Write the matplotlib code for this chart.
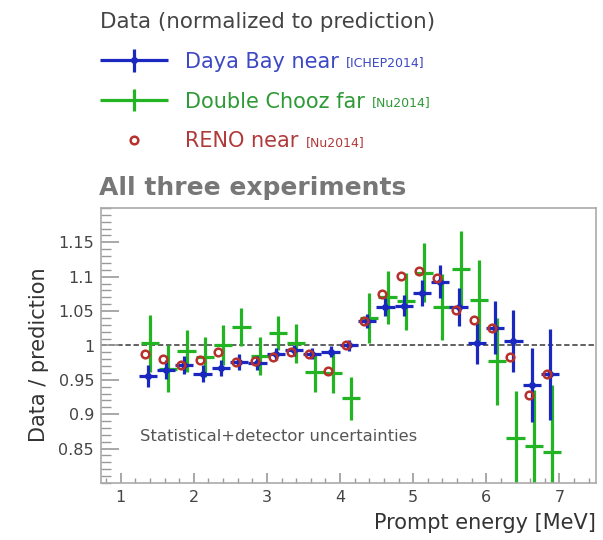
import matplotlib
matplotlib.use("Agg")
import matplotlib.pyplot as plt
from matplotlib.legend_handler import HandlerErrorbar

# energies (bin centres, slightly shifted per experiment)
dyb_e = [1.37, 1.62, 1.87, 2.12, 2.37, 2.62, 2.87, 3.12, 3.37, 3.62, 3.87, 4.12,
         4.37, 4.62, 4.87, 5.12, 5.37, 5.62, 5.87, 6.12, 6.37, 6.62, 6.87]
dyb_r = [0.956, 0.965, 0.972, 0.959, 0.967, 0.976, 0.975, 0.988, 0.993, 0.988, 0.991, 1.000,
         1.036, 1.056, 1.058, 1.077, 1.093, 1.056, 1.003, 1.026, 1.006, 0.943, 0.958]
dyb_err = [0.016, 0.014, 0.013, 0.012, 0.012, 0.011, 0.010, 0.009, 0.008, 0.008, 0.008, 0.008,
           0.010, 0.013, 0.015, 0.019, 0.024, 0.027, 0.030, 0.039, 0.045, 0.054, 0.066]

dc_e = [1.40, 1.65, 1.90, 2.15, 2.40, 2.65, 2.90, 3.15, 3.40, 3.65, 3.90, 4.15,
        4.40, 4.65, 4.90, 5.15, 5.40, 5.65, 5.90, 6.15, 6.40, 6.65, 6.90]
dc_r = [1.003, 0.966, 0.992, 0.983, 1.001, 1.027, 0.985, 1.018, 1.003, 0.961, 0.960, 0.923,
        1.040, 1.070, 1.064, 1.106, 1.056, 1.111, 1.066, 0.977, 0.866, 0.854, 0.845]
dc_err = [0.042, 0.034, 0.031, 0.029, 0.029, 0.027, 0.028, 0.025, 0.028, 0.028, 0.029, 0.031,
          0.036, 0.039, 0.042, 0.043, 0.048, 0.056, 0.059, 0.063, 0.068, 0.081, 0.097]

reno_e = [1.33, 1.58, 1.83, 2.08, 2.33, 2.58, 2.83, 3.08, 3.33, 3.58, 3.83, 4.08,
          4.33, 4.58, 4.83, 5.08, 5.33, 5.58, 5.83, 6.08, 6.33, 6.58, 6.83]
reno_r = [0.988, 0.981, 0.972, 0.979, 0.991, 0.976, 0.978, 0.983, 0.991, 0.987, 0.963, 1.000,
          1.035, 1.075, 1.101, 1.109, 1.098, 1.051, 1.037, 1.026, 0.983, 0.928, 0.958]

half_bin = 0.125

labels = ["Daya Bay near", "Double Chooz far", "RENO near"]
refs = ["[ICHEP2014]", "[Nu2014]", "[Nu2014]"]
blue = "#1a28c0"
green = "#22b422"
red = "#b8302c"
text_cols = ["#3c48c4", "#2e9a35", "#b03a3a"]

xticks = [1, 2, 3, 4, 5, 6, 7]
yticks = [0.85, 0.9, 0.95, 1.0, 1.05, 1.1, 1.15]
ytick_labels = ["0.85", "0.9", "0.95", "1", "1.05", "1.1", "1.15"]

fig = plt.figure(figsize=(6.03, 5.40), dpi=100)
ax = fig.add_axes([101 / 603, 57 / 540, 495 / 603, 275 / 540])

ax.axhline(1.0, color="#555555", ls=(0, (3, 1.5)), lw=1.3, zorder=1)

h_dc = ax.errorbar(dc_e, dc_r, yerr=dc_err, xerr=half_bin, fmt="none",
                   ecolor=green, elinewidth=2.3, capsize=0, zorder=2)
h_dyb = ax.errorbar(dyb_e, dyb_r, yerr=dyb_err, xerr=half_bin, fmt="o", ms=4,
                    color=blue, ecolor=blue, elinewidth=2.3, capsize=0, zorder=3)
h_reno, = ax.plot(reno_e, reno_r, "o", ms=5.5, mfc="none", mec=red, mew=1.8,
                  ls="none", zorder=4)

ax.set_xlim(0.73, 7.5)
ax.set_ylim(0.8, 1.2)
ax.set_xticks(xticks)
ax.set_yticks(yticks)
ax.set_yticklabels(ytick_labels)
ax.xaxis.set_minor_locator(matplotlib.ticker.MultipleLocator(0.2))
ax.yaxis.set_minor_locator(matplotlib.ticker.MultipleLocator(0.01))
ax.tick_params(which="both", direction="in", colors="#999999", labelcolor="#444444",
               labelsize=11.5)
ax.tick_params(axis="y", which="major", length=13, width=1.2, pad=5)
ax.tick_params(axis="y", which="minor", length=7, width=1.0)
ax.tick_params(axis="x", which="major", length=7, width=1.2, pad=5)
ax.tick_params(axis="x", which="minor", length=3.5, width=1.0)
for s in ax.spines.values():
    s.set_color("#aaaaaa")
    s.set_linewidth(1.2)

ax.set_ylabel("Data / prediction", fontsize=15, color="#333333")
ax.yaxis.set_label_coords(-0.105, 0.465)
ax.set_xlabel("Prompt energy [MeV]", fontsize=15, color="#333333", loc="right")
ax.xaxis.set_label_coords(1.0, -0.11)

ax.text(-0.005, 1.073, "All three experiments", transform=ax.transAxes,
        fontsize=18, fontweight="bold", color="#777777", va="center", ha="left")
ax.text(1.27, 0.867, "Statistical+detector uncertainties", fontsize=11.8,
        color="#555555", va="center", ha="left")

leg = fig.legend([h_dyb, h_dc, h_reno], labels, loc="upper left",
                 bbox_to_anchor=(100 / 603, 1 - 12 / 540), frameon=False,
                 title="Data (normalized to prediction)", title_fontsize=15.4,
                 fontsize=15, handlelength=3.25, handletextpad=0.85,
                 labelspacing=0.95, borderpad=0, borderaxespad=0, alignment="left",
                 handler_map={type(h_dyb): HandlerErrorbar(xerr_size=1.62, yerr_size=0.53)})
leg.get_title().set_color("#444444")
for t, c in zip(leg.get_texts(), text_cols):
    t.set_color(c)

fig.canvas.draw()
inv = fig.transFigure.inverted()
for t, c, r in zip(leg.get_texts(), text_cols, refs):
    bb = t.get_window_extent()
    x, y = inv.transform((bb.x1 + 7, (bb.y0 + bb.y1) / 2 - 1))
    fig.text(x, y, r, fontsize=9, color=c, va="center", ha="left")

fig.savefig("out.png", dpi=100)
